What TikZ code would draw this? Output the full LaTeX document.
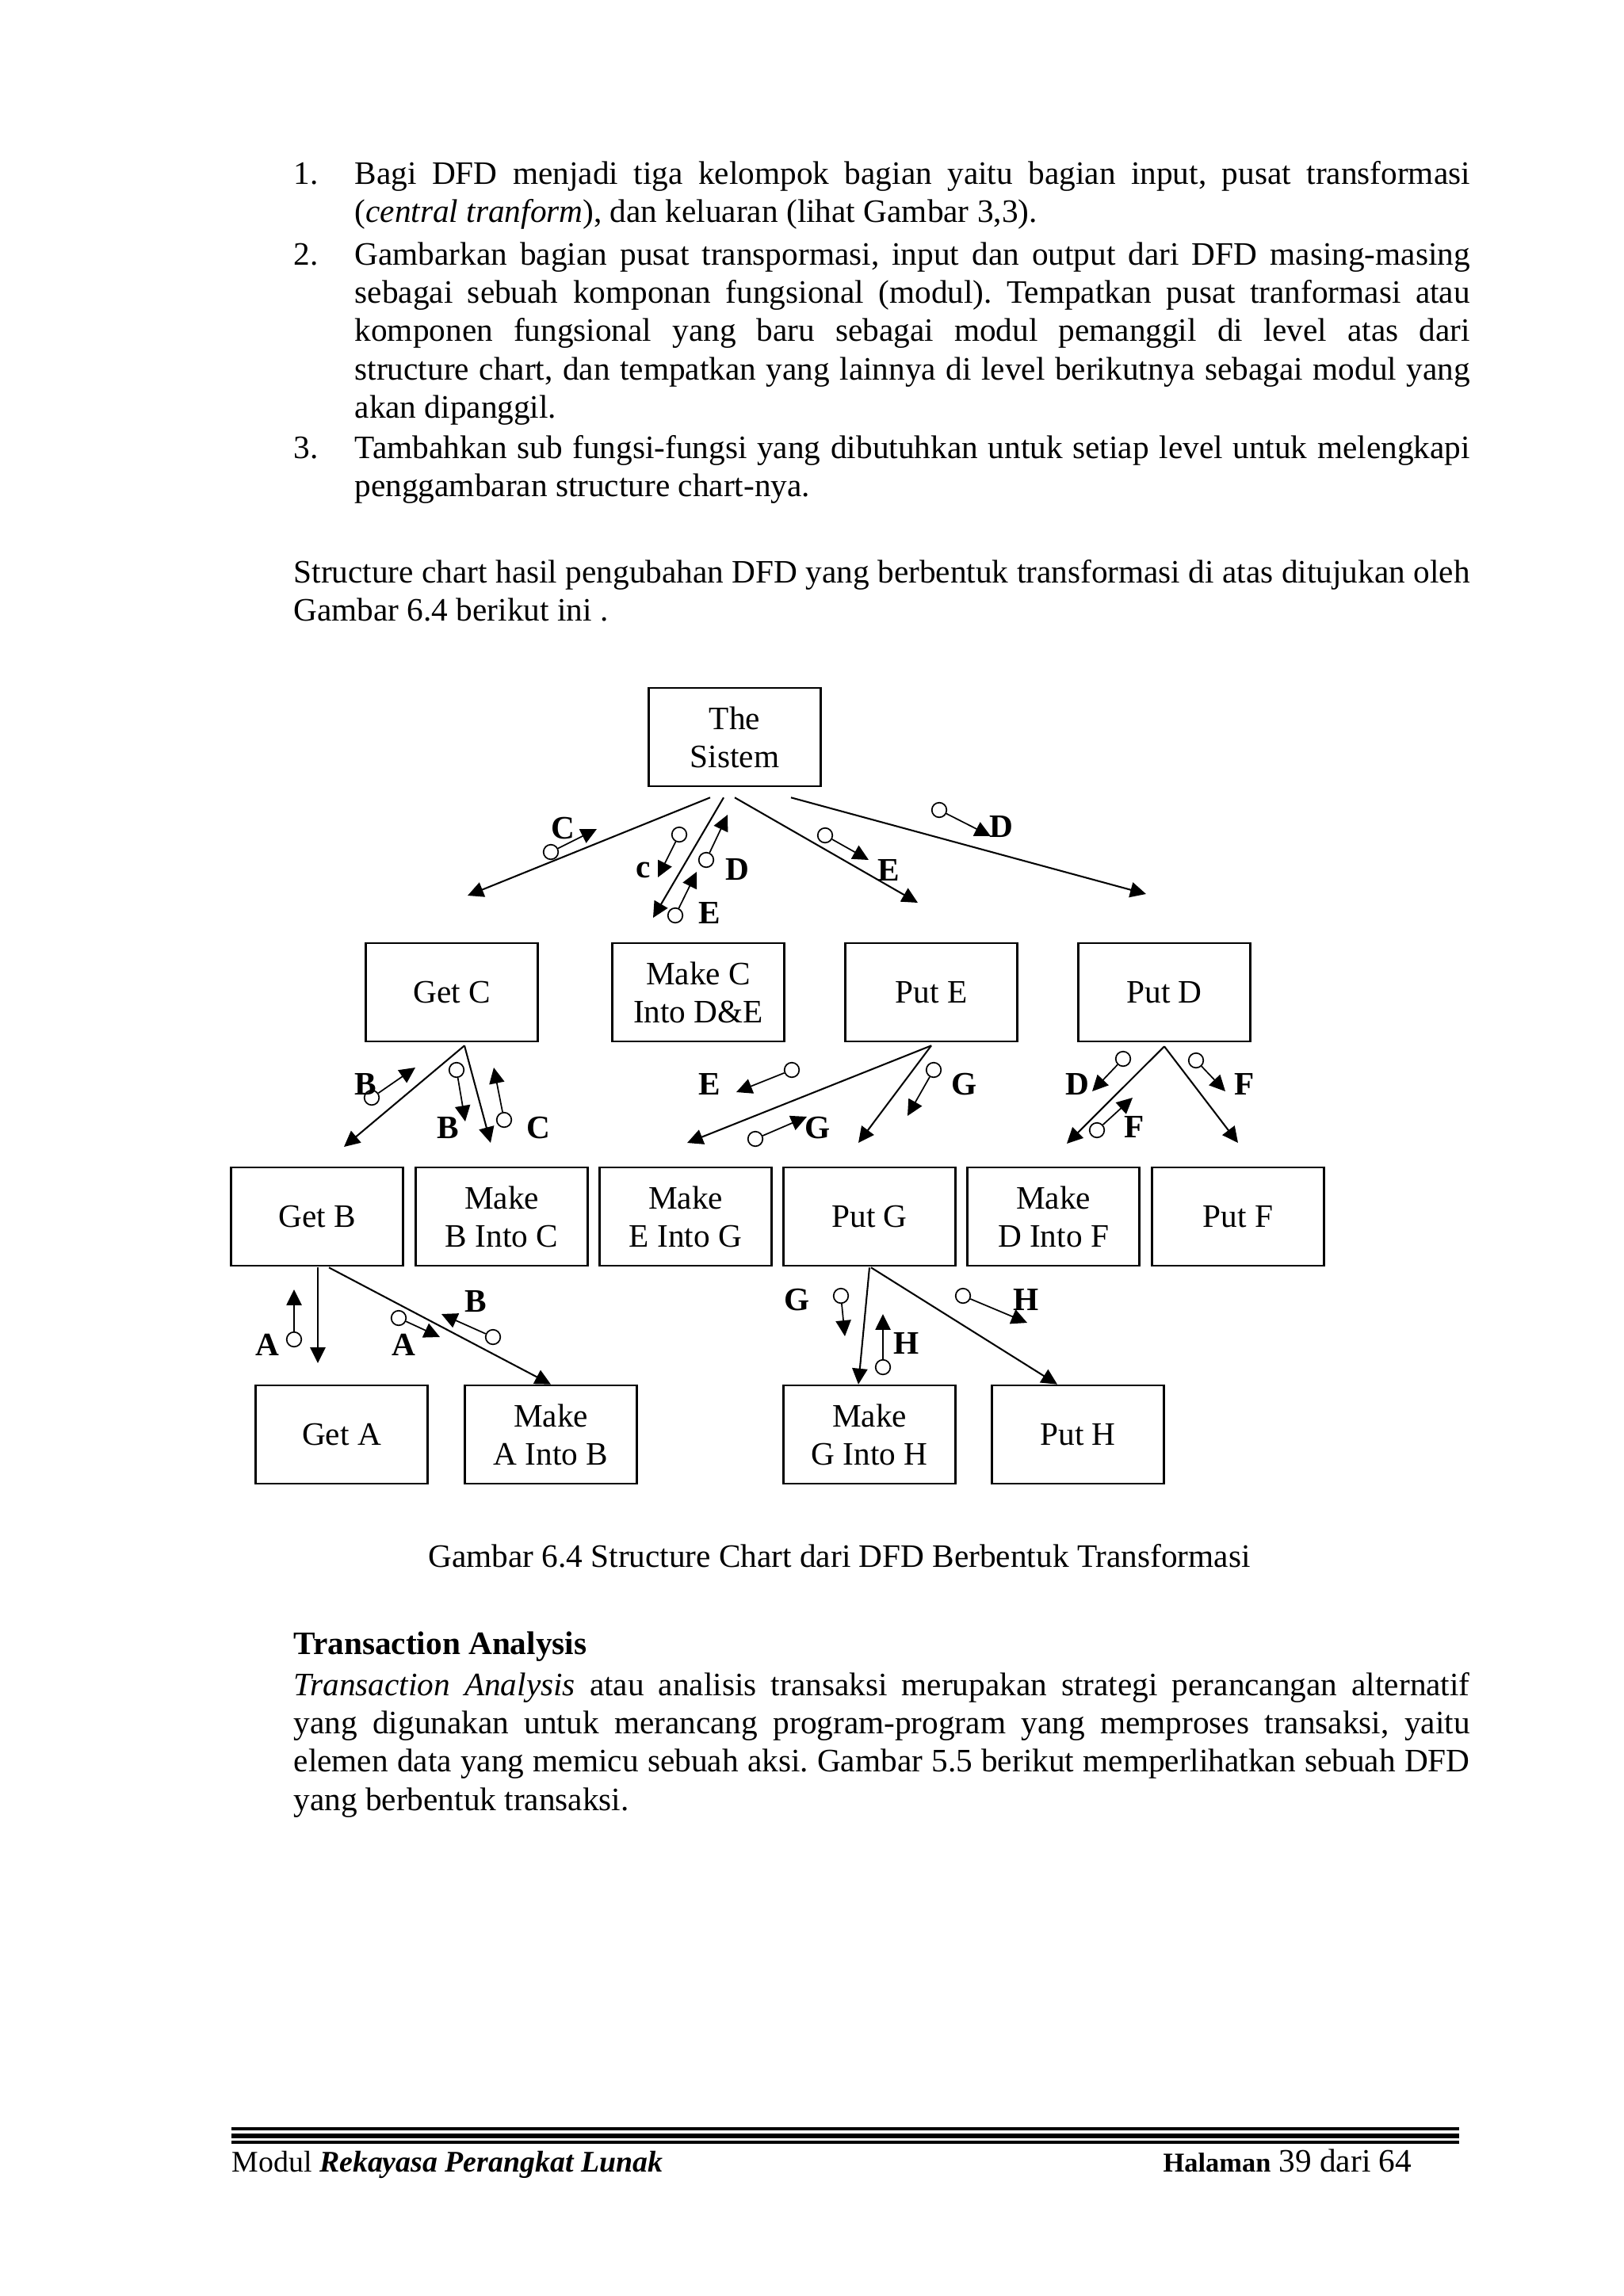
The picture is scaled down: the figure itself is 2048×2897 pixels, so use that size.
\documentclass[tikz,border=0pt]{standalone}
\usepackage{fontspec}
\setmainfont{Liberation Serif}
\usetikzlibrary{arrows.meta, calc}
\hyphenpenalty=10000
\exhyphenpenalty=10000
\tolerance=9999
\emergencystretch=20pt
\frenchspacing

\begin{document}
\begin{tikzpicture}[
    x=0.29067pt, y=-0.29067pt,
    >={Triangle[length=5.8pt, width=5.6pt]},
    module/.style={draw, line width=0.8pt, minimum width=63pt, minimum height=36pt,
                   inner sep=1pt, align=center, font=\fontsize{12}{14}\selectfont},
    call/.style={->, line width=0.6pt},
    couple/.style={draw, circle, line width=0.5pt, minimum size=5.4pt,
                   inner sep=0pt, fill=white},
    flow/.style={->, line width=0.5pt},
    cname/.style={font=\fontsize{12}{14}\selectfont\bfseries, inner sep=0pt},
    body/.style={anchor=base west, inner sep=0pt, align=justify,
                 font=\fontsize{12}{14.07}\selectfont}
  ]
  \useasboundingbox[fill=white] (0,0) rectangle (2048,2897);

  % text above the chart
  \node[body] (num1) at (370,232) {1.};
  \node[body, text width=409pt] (item1) at (447,232)
    {Bagi DFD menjadi tiga kelompok bagian yaitu bagian input, pusat transformasi\linebreak
     (\textit{central tranform}), dan keluaran (lihat Gambar 3,3).};
  \node[body] (num2) at (370,334) {2.};
  \node[body, text width=409pt] (item2) at (447,334)
    {Gambarkan bagian pusat transpormasi, input dan output dari DFD masing-masing\linebreak
     sebagai sebuah komponan fungsional (modul). Tempatkan pusat tranformasi atau\linebreak
     komponen fungsional yang baru sebagai modul pemanggil di level atas dari\linebreak
     structure chart, dan tempatkan yang lainnya di level berikutnya sebagai modul yang\linebreak
     akan dipanggil.};
  \node[body] (num3) at (370,578) {3.};
  \node[body, text width=409pt] (item3) at (447,578)
    {Tambahkan sub fungsi-fungsi yang dibutuhkan untuk setiap level untuk melengkapi\linebreak
     penggambaran structure chart-nya.};
  \node[body, text width=431.3pt] (intro) at (370,735)
    {Structure chart hasil pengubahan DFD yang berbentuk transformasi di atas ditujukan oleh\linebreak
     Gambar 6.4 berikut ini .};

  % modules
  \node[module] (sys)   at (927,930)   {The\\Sistem};
  \node[module] (getC)  at (570,1252)  {Get C};
  \node[module] (makeC) at (881,1252)  {Make C\\Into D\&E};
  \node[module] (putE)  at (1175,1252) {Put E};
  \node[module] (putD)  at (1469,1252) {Put D};
  \node[module] (getB)  at (400,1535)  {Get B};
  \node[module] (makeB) at (633,1535)  {Make\\B Into C};
  \node[module] (makeE) at (865,1535)  {Make\\E Into G};
  \node[module] (putG)  at (1097,1535) {Put G};
  \node[module] (makeD) at (1329,1535) {Make\\D Into F};
  \node[module] (putF)  at (1562,1535) {Put F};
  \node[module] (getA)  at (431,1810)  {Get A};
  \node[module] (makeA) at (695,1810)  {Make\\A Into B};
  \node[module] (makeG) at (1097,1810) {Make\\G Into H};
  \node[module] (putH)  at (1360,1810) {Put H};

  % loose ends of the calls
  \coordinate (toGetC)  at (590,1130);
  \coordinate (toMakeC) at (824,1158);
  \coordinate (toPutE)  at (1158,1139);
  \coordinate (toPutD)  at (1446,1128);
  \coordinate (toGetB)  at (434,1447);
  \coordinate (toMakeB) at (619,1442);
  \coordinate (toMakeE) at (867,1442);
  \coordinate (toPutG)  at (1083,1442);
  \coordinate (toMakeD) at (1346,1443);
  \coordinate (toPutF)  at (1562,1442);
  \coordinate (toGetA)  at (401,1720);

  % calls
  \draw[call] ($(sys.south)+(-31,13)$) -- (toGetC);
  \draw[call] ($(sys.south)+(-14,13)$) -- (toMakeC);
  \draw[call] ($(sys.south)+(0,13)$)   -- (toPutE);
  \draw[call] ($(sys.south)+(71,13)$)  -- (toPutD);
  \draw[call] ($(getC.south)+(16,4)$) -- (toGetB);
  \draw[call] ($(getC.south)+(16,4)$) -- (toMakeB);
  \draw[call] ($(putE.south)+(0,4)$) -- (toMakeE);
  \draw[call] ($(putE.south)+(0,4)$) -- (toPutG);
  \draw[call] ($(putD.south)+(0,5)$) -- (toMakeD);
  \draw[call] ($(putD.south)+(0,5)$) -- (toPutF);
  \draw[call] ($(getB.south)+(1,1)$)  -- (toGetA);
  \draw[call] ($(getB.south)+(15,1)$) -- (makeA.north);
  \draw[call] ($(putG.south)+(0,1)$) -- ($(makeG.north)+(-14,0)$);
  \draw[call] ($(putG.south)+(2,1)$) -- ($(putH.north)+(-26,0)$);

  % data couples: circle, tip, label
  \foreach \cx/\cy/\tx/\ty/\lx/\ly/\dname [count=\i] in {
      695/1075/753/1046/710/1045/C,
      857/1053/830/1107/812/1098/c,
      891/1085/918/1028/930/1097/D,
      852/1155/879/1100/895/1152/E,
      1041/1054/1096/1085/1121/1098/E,
      1185/1022/1250/1055/1263/1043/D,
      469/1385/524/1347/461/1368/B,
      576/1350/587/1415/565/1423/B,
      636/1413/623/1347/679/1423/C,
      999/1350/929/1378/895/1368/E,
      953/1437/1018/1409/1032/1423/G,
      1178/1350/1145/1408/1217/1368/G,
      1417/1336/1378/1377/1359/1368/D,
      1384/1426/1429/1385/1431/1422/F,
      1509/1338/1546/1377/1570/1368/F,
      371/1690/371/1627/337/1697/A,
      503/1663/555/1687/509/1697/A,
      622/1687/557/1658/600/1642/B,
      1061/1635/1066/1686/1006/1640/G,
      1114/1725/1114/1658/1144/1695/H,
      1215/1635/1296/1669/1295/1640/H}{
    \node[couple] (dc\i) at (\cx,\cy) {};
    \coordinate (dt\i) at (\tx,\ty);
    \draw[flow] (dc\i) -- (dt\i);
    \node[cname] (dl\i) at (\lx,\ly) {\dname};
  }

  % caption and text below
  \node[body, anchor=base] (caption) at (1059,1977)
    {Gambar 6.4 Structure Chart dari DFD Berbentuk Transformasi};
  \node[body, font=\fontsize{12}{14.07}\selectfont\bfseries] (head) at (370,2087)
    {Transaction Analysis};
  \node[body, text width=431.3pt] (trans) at (370,2139)
    {\textit{Transaction Analysis} atau analisis transaksi merupakan strategi perancangan alternatif\linebreak
     yang digunakan untuk merancang program-program yang memproses transaksi, yaitu\linebreak
     elemen data yang memicu sebuah aksi. Gambar 5.5 berikut memperlihatkan sebuah DFD\linebreak
     yang berbentuk transaksi.};

  % footer
  \draw[line width=0.9pt] (292,2686) -- (1841,2686);
  \draw[line width=2pt]   (292,2695) -- (1841,2695);
  \draw[line width=0.9pt] (292,2703) -- (1841,2703);
  \node[body, font=\fontsize{11}{13}\selectfont] (footL) at (292,2740)
    {Modul \textbf{\textit{Rekayasa Perangkat Lunak}}};
  \node[body] (footR) at (1467,2740)
    {{\fontsize{10}{12}\selectfont\bfseries Halaman} 39 dari 64};
\end{tikzpicture}
\end{document}
